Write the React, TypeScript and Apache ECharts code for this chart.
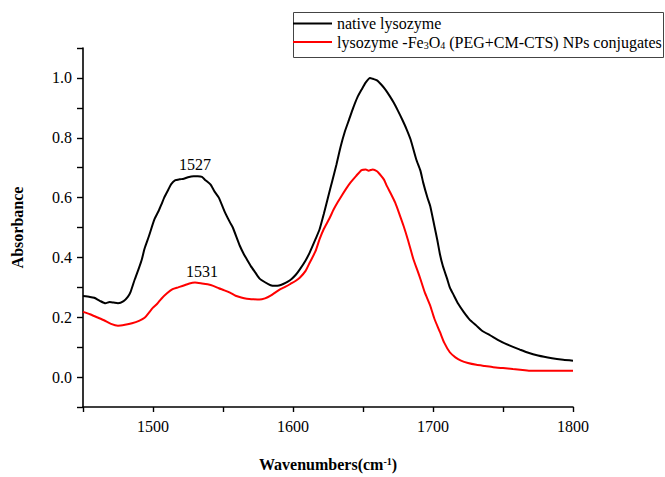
import React, { useEffect, useRef } from "react";
import * as echarts from "echarts";

const blackWn = [1450, 1455, 1458, 1462, 1466, 1469, 1472, 1475, 1479, 1482, 1484, 1487, 1490, 1492, 1494, 1497, 1501, 1504, 1506, 1508, 1511, 1513, 1516, 1519, 1522, 1525, 1529, 1532, 1535, 1537, 1541, 1544, 1547, 1551, 1555, 1557, 1562, 1565, 1567, 1570, 1573, 1576, 1580, 1584, 1587, 1590, 1593, 1596, 1599, 1602, 1605, 1609, 1612, 1616, 1619, 1622, 1625, 1628, 1631, 1634, 1637, 1640, 1643, 1646, 1649, 1652, 1655, 1657, 1660, 1663, 1666, 1669, 1672, 1675, 1678, 1681, 1684, 1688, 1691, 1693, 1696, 1698, 1701, 1703, 1705, 1707, 1710, 1712, 1715, 1718, 1722, 1726, 1731, 1735, 1741, 1748, 1755, 1762, 1767, 1775, 1785, 1793, 1800];
const blackAbs = [0.271, 0.268, 0.265, 0.255, 0.247, 0.251, 0.249, 0.247, 0.254, 0.268, 0.285, 0.327, 0.365, 0.393, 0.43, 0.47, 0.527, 0.555, 0.577, 0.6, 0.627, 0.645, 0.658, 0.661, 0.663, 0.668, 0.671, 0.671, 0.669, 0.66, 0.644, 0.62, 0.6, 0.555, 0.517, 0.5, 0.439, 0.41, 0.394, 0.37, 0.35, 0.33, 0.317, 0.307, 0.305, 0.306, 0.311, 0.318, 0.328, 0.342, 0.361, 0.39, 0.417, 0.46, 0.494, 0.545, 0.6, 0.655, 0.71, 0.77, 0.82, 0.86, 0.9, 0.935, 0.961, 0.985, 1.0, 0.997, 0.992, 0.978, 0.961, 0.94, 0.917, 0.89, 0.861, 0.83, 0.794, 0.728, 0.69, 0.65, 0.6, 0.572, 0.505, 0.46, 0.41, 0.372, 0.33, 0.3, 0.272, 0.245, 0.217, 0.193, 0.172, 0.155, 0.139, 0.12, 0.105, 0.092, 0.083, 0.072, 0.063, 0.058, 0.055];

const redWn = [1450, 1455, 1460, 1465, 1470, 1475, 1480, 1485, 1490, 1494, 1497, 1500, 1503, 1506, 1510, 1514, 1518, 1522, 1526, 1530, 1535, 1539, 1543, 1547, 1551, 1555, 1559, 1563, 1567, 1572, 1576, 1580, 1584, 1588, 1591, 1595, 1598, 1602, 1605, 1609, 1612, 1616, 1619, 1622, 1626, 1629, 1632, 1635, 1638, 1641, 1645, 1649, 1652, 1654, 1657, 1660, 1662, 1665, 1667, 1670, 1673, 1676, 1679, 1682, 1686, 1689, 1691, 1694, 1698, 1701, 1705, 1708, 1712, 1716, 1720, 1725, 1731, 1737, 1743, 1750, 1757, 1764, 1770, 1780, 1790, 1800];
const redAbs = [0.218, 0.21, 0.2, 0.19, 0.178, 0.172, 0.175, 0.18, 0.188, 0.198, 0.215, 0.232, 0.245, 0.262, 0.28, 0.294, 0.3, 0.306, 0.313, 0.316, 0.313, 0.31, 0.305, 0.297, 0.29, 0.282, 0.272, 0.266, 0.262, 0.26, 0.259, 0.263, 0.272, 0.285, 0.294, 0.303, 0.311, 0.322, 0.333, 0.355, 0.383, 0.42, 0.461, 0.495, 0.53, 0.56, 0.585, 0.608, 0.63, 0.65, 0.672, 0.692, 0.694, 0.69, 0.694, 0.688, 0.678, 0.66, 0.639, 0.612, 0.583, 0.545, 0.505, 0.46, 0.394, 0.355, 0.328, 0.285, 0.239, 0.195, 0.15, 0.115, 0.083, 0.066, 0.055, 0.047, 0.041, 0.037, 0.033, 0.03, 0.027, 0.024, 0.021, 0.021, 0.021, 0.021];

const seriesNames = ["native lysozyme", "lysozyme -Fe3O4 (PEG+CM-CTS) NPs conjugates"];
const legendRichTexts = ["native lysozyme", "lysozyme -Fe{sub|3}O{sub|4} (PEG+CM-CTS) NPs conjugates"];
const seriesColors = ["#000000", "#ff0000"];

const peakLabels = ["1527", "1531"];
const peakLabelWn = [1530, 1535];
const peakLabelAbs = [0.711, 0.354];

// labelled tick values (others are unlabelled minor ticks)
const xLabelled = [1500, 1600, 1700, 1800];
const yLabelled = [0, 0.2, 0.4, 0.6, 0.8, 1.0];

const FONT = "'Liberation Serif', 'Times New Roman', serif";

export default function App() {
  const ref = useRef<HTMLDivElement>(null);

  useEffect(() => {
    if (!ref.current) return;
    const chart = echarts.init(ref.current, null, { renderer: "svg" });

    const toPairs = (xs: number[], ys: number[]) => xs.map((x, i) => [x, ys[i]]);

    const option: any = {
      animation: false,
      backgroundColor: "#fff",
      grid: { left: 83, right: 92, top: 48, bottom: 69, containLabel: false },
      xAxis: {
        type: "value",
        min: 1450,
        max: 1800,
        interval: 50,
        axisLine: { show: true, onZero: false, lineStyle: { color: "#000", width: 1.6 } },
        axisTick: { show: true, length: 5, lineStyle: { color: "#000", width: 1.4 } },
        axisLabel: {
          show: true,
          margin: 11,
          color: "#000",
          fontSize: 16,
          fontFamily: FONT,
          formatter: (v: number) => (xLabelled.some((t) => Math.abs(t - v) < 1e-6) ? String(Math.round(v)) : ""),
        },
        splitLine: { show: false },
        name: "Wavenumbers(cm{sup|-1})",
        nameLocation: "middle",
        nameGap: 49,
        nameTextStyle: {
          color: "#000",
          fontSize: 16,
          fontWeight: "bold",
          fontFamily: FONT,
          rich: { sup: { fontSize: 10, fontWeight: "bold", fontFamily: FONT, verticalAlign: "top", color: "#000" } },
        },
      },
      yAxis: {
        type: "value",
        min: -0.1,
        max: 1.1,
        interval: 0.1,
        axisLine: { show: true, onZero: false, lineStyle: { color: "#000", width: 1.6 } },
        axisTick: { show: true, length: 6, lineStyle: { color: "#000", width: 1.4 } },
        axisLabel: {
          show: true,
          margin: 11,
          color: "#000",
          fontSize: 16,
          fontFamily: FONT,
          formatter: (v: number) => (yLabelled.some((t) => Math.abs(t - v) < 1e-6) ? v.toFixed(1) : ""),
        },
        splitLine: { show: false },
        name: "Absorbance",
        nameLocation: "middle",
        nameGap: 58,
        nameTextStyle: { color: "#000", fontSize: 16, fontWeight: "bold", fontFamily: FONT },
      },
      series: [0, 1].map((i) => ({
        name: seriesNames[i],
        type: "line",
        data: i === 0 ? toPairs(blackWn, blackAbs) : toPairs(redWn, redAbs),
        symbol: "none",
        smooth: 0.2,
        lineStyle: { color: seriesColors[i], width: 2 },
        itemStyle: { color: seriesColors[i] },
        z: i === 0 ? 3 : 2,
        markPoint: {
          symbol: "circle",
          symbolSize: 1,
          itemStyle: { color: "rgba(0,0,0,0)" },
          label: { show: true, position: "inside", color: "#000", fontSize: 16, fontFamily: FONT, formatter: "{b}" },
          data: [{ name: peakLabels[i], coord: [peakLabelWn[i], peakLabelAbs[i]] }],
        },
      })),
      graphic: [
        {
          type: "rect",
          shape: { x: 293.5, y: 12.5, width: 370, height: 45 },
          style: { fill: "#fff", stroke: "#444", lineWidth: 1 },
          z: 10,
        },
        ...[0, 1].flatMap((i) => [
          {
            type: "line",
            shape: { x1: 293, y1: 23.5 + i * 18.5, x2: 332, y2: 23.5 + i * 18.5 },
            style: { stroke: seriesColors[i], lineWidth: 2 },
            z: 11,
          },
          {
            type: "text",
            x: 337,
            y: 23.5 + i * 18.5,
            style: {
              text: legendRichTexts[i],
              fill: "#000",
              fontSize: 16,
              fontFamily: FONT,
              verticalAlign: "middle",
              align: "left",
              rich: { sub: { fontSize: 10, fontFamily: FONT, verticalAlign: "bottom", lineHeight: 10, fill: "#000" } },
            },
            z: 11,
          },
        ]),
      ],
    };

    chart.setOption(option);
    return () => chart.dispose();
  }, []);

  return (
    <div
      ref={ref}
      style={{ position: "fixed", left: 0, top: 0, width: 665, height: 477, background: "#fff" }}
    />
  );
}
